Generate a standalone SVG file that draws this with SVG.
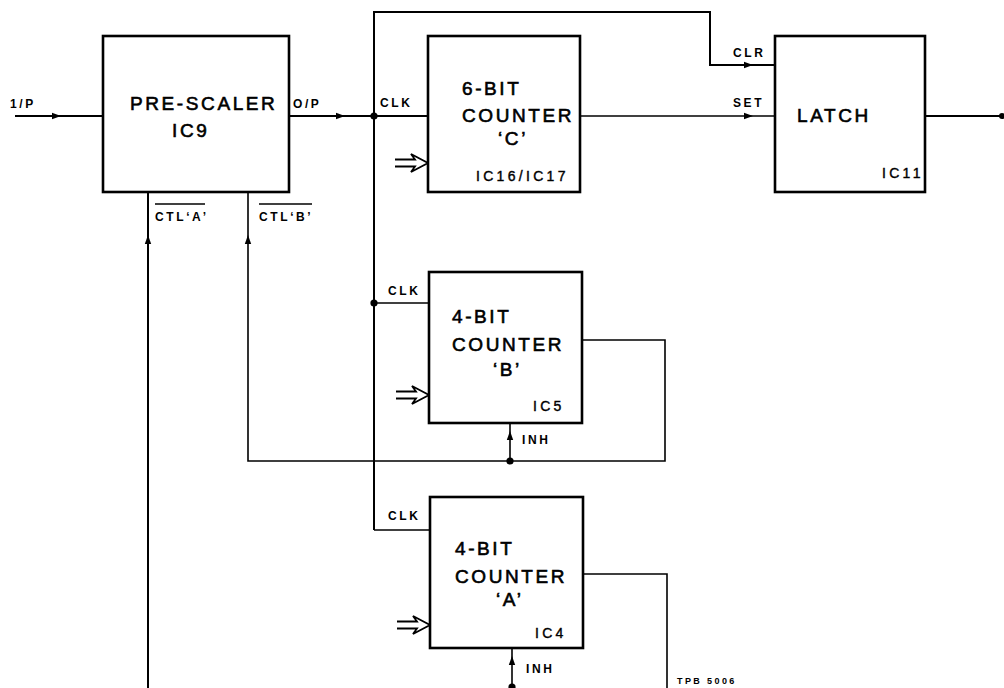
<svg xmlns="http://www.w3.org/2000/svg" xmlns:xlink="http://www.w3.org/1999/xlink" width="1004" height="688" viewBox="0 0 1004 688">
<defs>
<style>
.box{fill:#fff;stroke:#000;stroke-width:2.6}
.w{fill:none;stroke:#000;stroke-width:2}
.t{stroke:#000;stroke-width:1.6;fill:none}
.hol{fill:#fff;stroke:#000;stroke-width:1.8;stroke-linejoin:miter}
.big{font-family:"Liberation Sans",Arial,sans-serif;font-size:19px;letter-spacing:2.6px;fill:#000;stroke:#000;stroke-width:0.6}
.mid{font-family:"Liberation Sans",Arial,sans-serif;font-size:14px;letter-spacing:3.3px;fill:#000;stroke:#000;stroke-width:0.4}
.sm{font-family:"Liberation Sans",Arial,sans-serif;font-size:12px;font-weight:bold;letter-spacing:2.6px;fill:#000}
.tiny{font-family:"Liberation Sans",Arial,sans-serif;font-size:9px;font-weight:bold;letter-spacing:2.4px;fill:#000}
</style>
<path id="ah" d="M-6,-3.2 L3,0 L-6,3.2 Z" fill="#000"/>
<path id="ha" d="M-33,-3.5 H-13 L-17,-9 L0,0 L-17,9 L-13,3.5 H-33"/>
</defs>

<g id="connectors">
  <line class="w" x1="15" y1="116" x2="103" y2="116"/>
  <use xlink:href="#ah" transform="translate(58,116)"/>
  <line class="w" x1="289" y1="116" x2="428" y2="116"/>
  <use xlink:href="#ah" transform="translate(342,116)"/>
  <circle cx="374" cy="116" r="3.6"/>
  <polyline class="w" points="374,530 374,12 710,12 710,65 775,65"/>
  <use xlink:href="#ah" transform="translate(750,65)"/>
  <line class="t" x1="580" y1="116" x2="775" y2="116"/>
  <use xlink:href="#ah" transform="translate(750,116)"/>
  <line class="w" x1="925" y1="116" x2="1004" y2="116"/>
  <circle cx="1002" cy="116" r="3"/>
  <line class="t" x1="374" y1="303" x2="429" y2="303"/>
  <circle cx="374" cy="303" r="3.6"/>
  <line class="t" x1="374" y1="530" x2="430" y2="530"/>
  <polyline class="t" points="582,340 665,340 665,461 248,461 248,192"/>
  <use xlink:href="#ah" transform="translate(248,238) rotate(-90)"/>
  <circle cx="510" cy="461" r="3.6"/>
  <line class="t" x1="510" y1="423" x2="510" y2="461"/>
  <use xlink:href="#ah" transform="translate(510,434) rotate(-90)"/>
  <polyline class="t" points="583,574 667,574 667,688"/>
  <line class="t" x1="512" y1="648" x2="512" y2="688"/>
  <use xlink:href="#ah" transform="translate(512,659) rotate(-90)"/>
  <circle cx="512" cy="687" r="3.6"/>
  <line class="w" x1="148" y1="192" x2="148" y2="688"/>
  <use xlink:href="#ah" transform="translate(148,238) rotate(-90)"/>
  <use class="hol" xlink:href="#ha" transform="translate(428,163)"/>
  <use class="hol" xlink:href="#ha" transform="translate(429,395)"/>
  <use class="hol" xlink:href="#ha" transform="translate(430,625)"/>
</g>

<g id="prescaler">
  <rect class="box" x="103" y="36" width="186" height="156"/>
  <text class="big" x="130" y="110" font-size="20">PRE-SCALER</text>
  <text class="big" x="172" y="137">IC9</text>
</g>

<g id="counterC">
  <rect class="box" x="428" y="36" width="152" height="156"/>
  <text class="big" x="462" y="95">6-BIT</text>
  <text class="big" x="462" y="122">COUNTER</text>
  <text class="big" x="498" y="145">‘C’</text>
  <text class="mid" x="476" y="181">IC16/IC17</text>
</g>

<g id="latch">
  <rect class="box" x="775" y="36" width="150" height="156"/>
  <text class="big" x="797" y="122" letter-spacing="3.5">LATCH</text>
  <text class="mid" x="882" y="178" letter-spacing="1">IC11</text>
</g>

<g id="counterB">
  <rect class="box" x="429" y="272" width="153" height="151"/>
  <text class="big" x="452" y="323">4-BIT</text>
  <text class="big" x="452" y="351">COUNTER</text>
  <text class="big" x="493" y="376">‘B’</text>
  <text class="mid" x="533" y="411">IC5</text>
</g>

<g id="counterA">
  <rect class="box" x="430" y="497" width="153" height="151"/>
  <text class="big" x="455" y="555">4-BIT</text>
  <text class="big" x="455" y="583">COUNTER</text>
  <text class="big" x="496" y="606">‘A’</text>
  <text class="mid" x="535" y="638">IC4</text>
</g>

<g id="labels">
  <text class="sm" x="10" y="108" letter-spacing="1">1/P</text>
  <text class="sm" x="293" y="108" letter-spacing="1.5">O/P</text>
  <text class="sm" x="380" y="107">CLK</text>
  <text class="sm" x="733" y="57">CLR</text>
  <text class="sm" x="733" y="107">SET</text>
  <text class="sm" x="388" y="295">CLK</text>
  <text class="sm" x="388" y="520">CLK</text>
  <text class="sm" x="522" y="444">INH</text>
  <text class="sm" x="526" y="673">INH</text>
  <text class="sm" x="155" y="221" letter-spacing="2">CTL‘A’</text>
  <line class="t" x1="155" y1="204" x2="205" y2="204" stroke-width="1.4"/>
  <text class="sm" x="259" y="221" letter-spacing="2">CTL‘B’</text>
  <line class="t" x1="259" y1="204" x2="312" y2="204" stroke-width="1.4"/>
  <text class="tiny" x="677" y="684">TPB 5006</text>
</g>
</svg>
